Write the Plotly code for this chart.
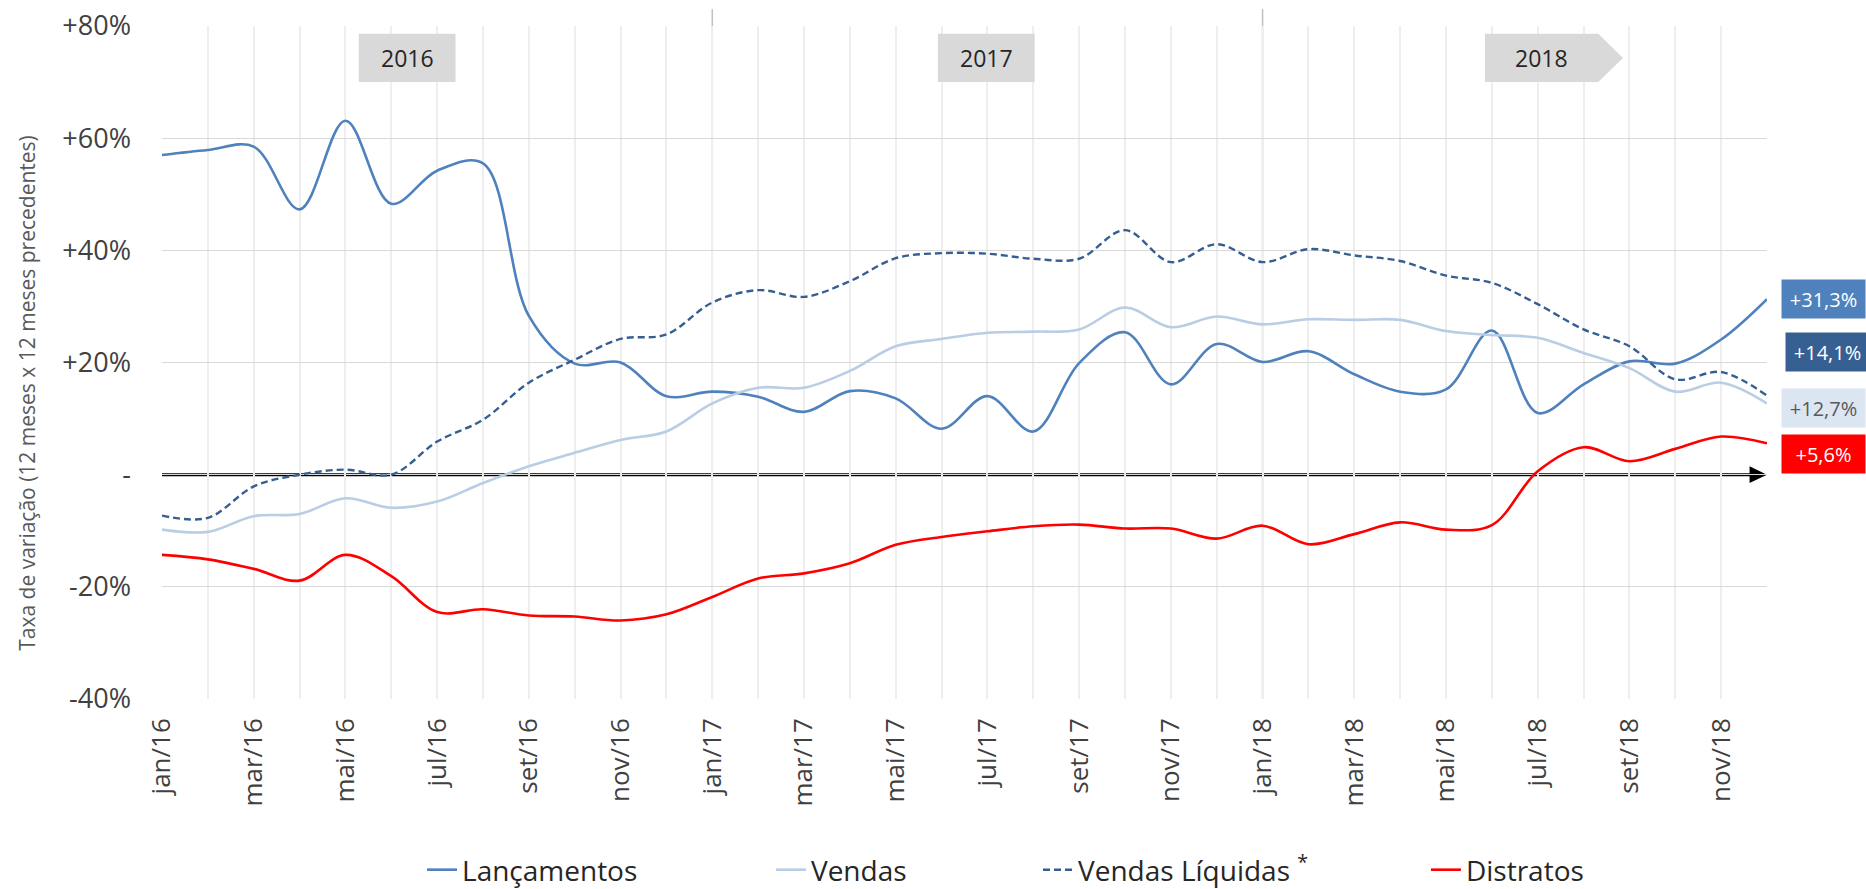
import plotly.graph_objects as go

months = ['jan/16','fev/16','mar/16','abr/16','mai/16','jun/16','jul/16','ago/16','set/16','out/16','nov/16','dez/16',
          'jan/17','fev/17','mar/17','abr/17','mai/17','jun/17','jul/17','ago/17','set/17','out/17','nov/17','dez/17',
          'jan/18','fev/18','mar/18','abr/18','mai/18','jun/18','jul/18','ago/18','set/18','out/18','nov/18','dez/18']

lancamentos = [57.0, 57.9, 58.5, 47.3, 63.1, 48.3, 54.2, 55.5, 28.3, 19.8, 20.0, 14.0,
               14.8, 13.9, 11.2, 14.9, 13.6, 8.2, 14.0, 7.7, 19.9, 25.4, 16.1, 23.3,
               20.1, 22.0, 17.9, 14.8, 15.2, 25.7, 11.0, 16.1, 20.2, 19.8, 24.1, 31.3]
vendas = [-9.8, -10.2, -7.4, -7.0, -4.2, -5.9, -4.8, -1.5, 1.5, 3.9, 6.2, 7.7,
          12.7, 15.5, 15.5, 18.5, 22.9, 24.2, 25.3, 25.5, 25.9, 29.8, 26.3, 28.2,
          26.8, 27.7, 27.6, 27.6, 25.6, 24.9, 24.4, 21.7, 19.0, 14.8, 16.4, 12.7]
vendas_liq = [-7.3, -7.7, -2.1, 0.0, 0.9, 0.0, 5.9, 9.8, 16.4, 20.5, 24.2, 25.0,
              30.7, 32.9, 31.7, 34.5, 38.6, 39.5, 39.4, 38.5, 38.5, 43.6, 37.9, 41.1,
              37.9, 40.2, 39.1, 38.1, 35.5, 34.2, 30.4, 25.9, 22.9, 17.0, 18.3, 14.1]
distratos = [-14.3, -15.1, -16.8, -18.9, -14.3, -18.1, -24.5, -24.0, -25.1, -25.3, -26.0, -24.9,
             -21.8, -18.5, -17.6, -15.8, -12.5, -11.1, -10.1, -9.2, -8.9, -9.6, -9.6, -11.4,
             -9.1, -12.4, -10.6, -8.5, -9.8, -9.0, 0.6, 4.9, 2.4, 4.6, 6.8, 5.6]

y_ticks = [-40, -20, 0, 20, 40, 60, 80]
y_ticktext = ['-40%', '-20%', '-', '+20%', '+40%', '+60%', '+80%']
years = ['2016', '2017', '2018']
end_labels = ['+31,3%', '+14,1%', '+12,7%', '+5,6%']

FONT = 'Open Sans'
x = list(range(len(months)))
n = len(months) - 1

C_LANC = '#4F81BD'
C_VEND = '#B9CDE5'
C_LIQ = '#365F91'
C_DIST = '#FF0000'

fig = go.Figure()
fig.add_trace(go.Scatter(x=x, y=lancamentos, name='Lançamentos', mode='lines', legend='legend',
                         line=dict(color=C_LANC, width=2.6, shape='spline', smoothing=1.0)))
fig.add_trace(go.Scatter(x=x, y=vendas, name='Vendas', mode='lines', legend='legend2',
                         line=dict(color=C_VEND, width=2.6, shape='spline', smoothing=1.0)))
fig.add_trace(go.Scatter(x=x, y=vendas_liq, name='Vendas Líquidas <sup>*</sup>', mode='lines', legend='legend3',
                         line=dict(color=C_LIQ, width=2.4, shape='spline', smoothing=1.0, dash='7px,4px')))
fig.add_trace(go.Scatter(x=x, y=distratos, name='Distratos', mode='lines', legend='legend4',
                         line=dict(color=C_DIST, width=2.6, shape='spline', smoothing=1.0)))

shapes = []
# year separators (jan/17, jan/18)
for idx in (12, 24):
    shapes.append(dict(type='line', xref='x', yref='y', x0=idx, x1=idx, y0=-40, y1=80,
                       line=dict(color='#BFBFBF', width=1.5), layer='below'))
    shapes.append(dict(type='line', xref='paper', yref='paper', x0=idx / n, x1=idx / n, y0=1, y1=1.025,
                       line=dict(color='#BFBFBF', width=1.5), layer='below'))
# zero axis with arrow
shapes.append(dict(type='line', xref='x', yref='y', x0=0, x1=n - 0.3, y0=0, y1=0,
                   line=dict(color='black', width=3), layer='below'))
shapes.append(dict(type='path', xref='x', yref='y',
                   path=f'M {n - 0.38},1.5 L {n},0 L {n - 0.38},-1.5 Z',
                   fillcolor='black', line=dict(color='black', width=0), layer='below'))
# year boxes
box_y0, box_y1 = 70.0, 78.6
shapes.append(dict(type='rect', xref='x', yref='y', x0=4.29, x1=6.40, y0=box_y0, y1=box_y1,
                   fillcolor='#D9D9D9', line=dict(width=0), layer='above'))
shapes.append(dict(type='rect', xref='x', yref='y', x0=16.92, x1=19.03, y0=box_y0, y1=box_y1,
                   fillcolor='#D9D9D9', line=dict(width=0), layer='above'))
shapes.append(dict(type='path', xref='x', yref='y',
                   path=f'M 28.85,{box_y0} L 31.32,{box_y0} L 31.86,{(box_y0+box_y1)/2} L 31.32,{box_y1} L 28.85,{box_y1} Z',
                   fillcolor='#D9D9D9', line=dict(width=0), layer='above'))

annotations = []
for yr, cx in zip(years, [5.345, 17.975, 30.09]):
    annotations.append(dict(x=cx, y=(box_y0 + box_y1) / 2, xref='x', yref='y', text=yr, showarrow=False,
                            font=dict(family=FONT, size=23, color='#262626'), xanchor='center', yanchor='middle'))

# end-of-series value labels
lab_specs = [
    (end_labels[0], 31.25, C_LANC, 'white', 1.0087),
    (end_labels[1], 21.8, '#366092', 'white', 1.0112),
    (end_labels[2], 11.9, '#DCE6F2', '#595959', 1.0087),
    (end_labels[3], 3.6, '#FF0000', 'white', 1.0087),
]
for txt, yc, bg, fc, px in lab_specs:
    annotations.append(dict(x=px, y=yc, xref='paper', yref='y', text=txt, showarrow=False,
                            xanchor='left', yanchor='middle', bgcolor=bg, width=83, height=38,
                            borderpad=0, align='center',
                            font=dict(family=FONT, size=20, color=fc)))

# y axis title
annotations.append(dict(x=-0.0841, y=0.455, xref='paper', yref='paper',
                        text='Taxa de variação (12 meses x 12 meses precedentes)',
                        textangle=-90, showarrow=False, xanchor='center', yanchor='middle',
                        font=dict(family=FONT, size=21, color='#595959')))

leg_common = dict(orientation='h', yref='container', y=0.0214, xanchor='left', yanchor='middle',
                  font=dict(family=FONT, size=28, color='#262626'), bgcolor='rgba(0,0,0,0)')

fig.update_layout(
    width=1866, height=889,
    margin=dict(l=162, r=99, t=26, b=190, autoexpand=False),
    paper_bgcolor='white', plot_bgcolor='white',
    font=dict(family=FONT, color='#404040'),
    shapes=shapes, annotations=annotations,
    showlegend=True,
    legend=dict(x=0.162, **leg_common),
    legend2=dict(x=0.3794, **leg_common),
    legend3=dict(x=0.5458, **leg_common),
    legend4=dict(x=0.7875, **leg_common),
    xaxis=dict(range=[0, n], tickmode='array', tickvals=x[::2], ticktext=months[::2],
               tickangle=-90, showgrid=True, gridcolor='#EEEEEE', gridwidth=1.5,
               minor=dict(tickmode='array', tickvals=x, showgrid=True, gridcolor='#EEEEEE', gridwidth=1.5),
               zeroline=False, showline=False, ticks='', ticklabelstandoff=13, automargin=False,
               tickfont=dict(family=FONT, size=26, color='#404040')),
    yaxis=dict(range=[-40, 80], tickmode='array', tickvals=y_ticks, ticktext=y_ticktext,
               showgrid=True, gridcolor='#D9D9D9', gridwidth=1.2, zeroline=False,
               showline=False, ticks='', ticklabelstandoff=30, automargin=False,
               tickfont=dict(family=FONT, size=27, color='#404040')),
)

fig.write_html('out.html', config={'displayModeBar': False},
               post_script="document.body.style.margin='0';")
